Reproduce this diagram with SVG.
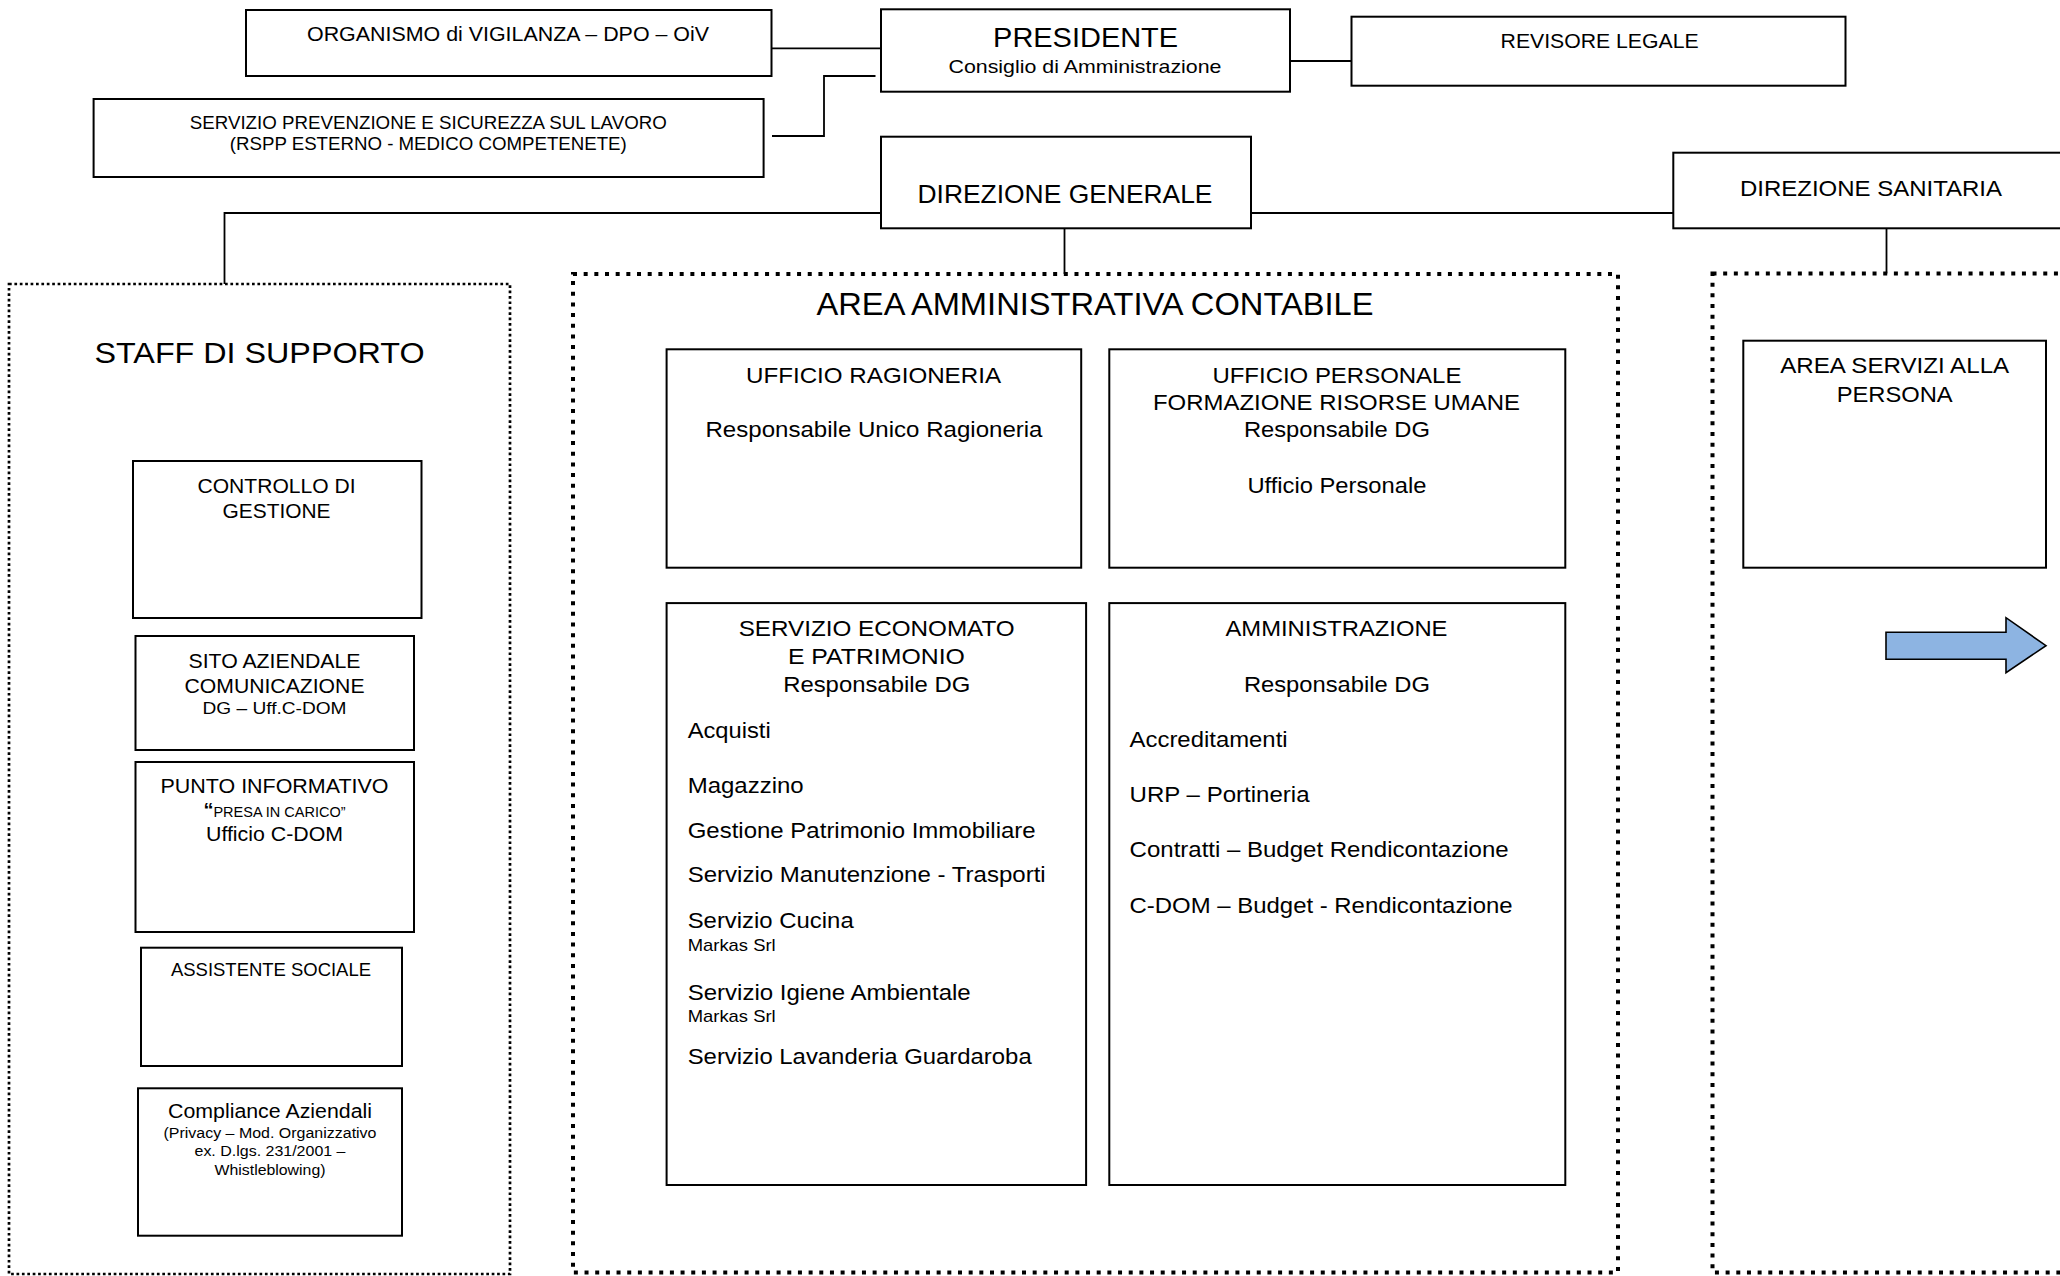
<svg xmlns="http://www.w3.org/2000/svg" width="2060" height="1276" viewBox="0 0 2060 1276">
<style>
.bg{fill:#fff}
.box{fill:#fff;stroke:#000;stroke-width:2}
.dot1{fill:none;stroke:#000;stroke-width:2.7;stroke-dasharray:2.7 2.7}
.dot2{fill:none;stroke:#000;stroke-width:4;stroke-dasharray:4 6.67}
.conn{fill:none;stroke:#000;stroke-width:1.8}
text{font-family:"Liberation Sans",Arial,sans-serif;fill:#000}
.c{text-anchor:middle}
.arrow{fill:#8DB4E2;stroke:#000;stroke-width:1.6}
</style>
<rect class="bg" x="0" y="0" width="2060" height="1276"/>

<g id="connectors">
  <line class="conn" x1="771.5" y1="48.3" x2="881" y2="48.3"/>
  <polyline class="conn" points="772,136 824,136 824,76 875.5,76"/>
  <line class="conn" x1="1290" y1="61" x2="1351.5" y2="61"/>
  <polyline class="conn" points="881,213 224.5,213 224.5,284"/>
  <line class="conn" x1="1251" y1="213" x2="1673.3" y2="213"/>
  <line class="conn" x1="1064.5" y1="228.3" x2="1064.5" y2="274"/>
  <line class="conn" x1="1886.5" y1="228.3" x2="1886.5" y2="273.5"/>
</g>

<g id="oiv">
  <rect class="box" x="246" y="10" width="525.5" height="66"/>
  <text class="c" x="508" y="40.5" font-size="19.5" textLength="402" lengthAdjust="spacingAndGlyphs">ORGANISMO di VIGILANZA – DPO – OiV</text>
</g>

<g id="spsl">
  <rect class="box" x="93.6" y="99" width="670" height="78"/>
  <text class="c" x="428.3" y="129.3" font-size="17.5" textLength="477" lengthAdjust="spacingAndGlyphs">SERVIZIO PREVENZIONE E SICUREZZA SUL LAVORO</text>
  <text class="c" x="428.3" y="149.5" font-size="17.5" textLength="397" lengthAdjust="spacingAndGlyphs">(RSPP ESTERNO - MEDICO COMPETENETE)</text>
</g>

<g id="presidente">
  <rect class="box" x="881" y="9.3" width="409" height="82.4"/>
  <text class="c" x="1085.6" y="47.3" font-size="27.5" textLength="185" lengthAdjust="spacingAndGlyphs">PRESIDENTE</text>
  <text class="c" x="1085" y="73.3" font-size="18.5" textLength="273" lengthAdjust="spacingAndGlyphs">Consiglio di Amministrazione</text>
</g>

<g id="revisore">
  <rect class="box" x="1351.5" y="16.7" width="494" height="69"/>
  <text class="c" x="1599.6" y="48.3" font-size="19.5" textLength="198" lengthAdjust="spacingAndGlyphs">REVISORE LEGALE</text>
</g>

<g id="direzione-generale">
  <rect class="box" x="881" y="136.7" width="370" height="91.6"/>
  <text class="c" x="1065" y="203" font-size="25" textLength="295" lengthAdjust="spacingAndGlyphs">DIREZIONE GENERALE</text>
</g>

<g id="direzione-sanitaria">
  <rect class="box" x="1673.3" y="152.7" width="420" height="75.6"/>
  <text class="c" x="1871" y="195.5" font-size="22" textLength="262" lengthAdjust="spacingAndGlyphs">DIREZIONE SANITARIA</text>
</g>

<g id="staff">
  <rect class="dot1" x="9" y="284" width="501" height="990"/>
  <text class="c" x="259.5" y="363" font-size="30" textLength="330" lengthAdjust="spacingAndGlyphs">STAFF DI SUPPORTO</text>
</g>

<g id="controllo">
  <rect class="box" x="133" y="461" width="288.5" height="157"/>
  <text class="c" x="276.5" y="492.6" font-size="19.5" textLength="158" lengthAdjust="spacingAndGlyphs">CONTROLLO DI</text>
  <text class="c" x="276.5" y="517.5" font-size="19.5" textLength="108" lengthAdjust="spacingAndGlyphs">GESTIONE</text>
</g>

<g id="sito">
  <rect class="box" x="135.5" y="636" width="278.5" height="114"/>
  <text class="c" x="274.5" y="667.5" font-size="19.5" textLength="172" lengthAdjust="spacingAndGlyphs">SITO AZIENDALE</text>
  <text class="c" x="274.5" y="692.5" font-size="19.5" textLength="180" lengthAdjust="spacingAndGlyphs">COMUNICAZIONE</text>
  <text class="c" x="274.5" y="713.5" font-size="16" textLength="144" lengthAdjust="spacingAndGlyphs">DG – Uff.C-DOM</text>
</g>

<g id="punto">
  <rect class="box" x="135.5" y="762" width="278.5" height="170"/>
  <text class="c" x="274.5" y="793" font-size="19.5" textLength="228" lengthAdjust="spacingAndGlyphs">PUNTO INFORMATIVO</text>
  <text class="c" x="274.5" y="817"><tspan font-size="20" font-weight="bold">“</tspan><tspan font-size="14.5">PRESA IN CARICO”</tspan></text>
  <text class="c" x="274.5" y="841.3" font-size="19.5" textLength="137" lengthAdjust="spacingAndGlyphs">Ufficio C-DOM</text>
</g>

<g id="assistente">
  <rect class="box" x="141" y="947.7" width="261" height="118.3"/>
  <text class="c" x="271" y="976" font-size="18.5" textLength="200" lengthAdjust="spacingAndGlyphs">ASSISTENTE SOCIALE</text>
</g>

<g id="compliance">
  <rect class="box" x="138" y="1088.3" width="264" height="147.4"/>
  <text class="c" x="270" y="1118.3" font-size="20" textLength="204" lengthAdjust="spacingAndGlyphs">Compliance Aziendali</text>
  <text class="c" x="270" y="1138.3" font-size="15.5" textLength="213" lengthAdjust="spacingAndGlyphs">(Privacy – Mod. Organizzativo</text>
  <text class="c" x="270" y="1156.3" font-size="15.5" textLength="151" lengthAdjust="spacingAndGlyphs">ex. D.lgs. 231/2001 –</text>
  <text class="c" x="270" y="1175" font-size="15.5" textLength="111" lengthAdjust="spacingAndGlyphs">Whistleblowing)</text>
</g>

<g id="area-amministrativa">
  <rect class="dot2" x="573" y="274" width="1045" height="998.5"/>
  <text class="c" x="1095" y="315" font-size="30.5" textLength="557" lengthAdjust="spacingAndGlyphs">AREA AMMINISTRATIVA CONTABILE</text>
</g>

<g id="ragioneria">
  <rect class="box" x="666.6" y="349.3" width="414.6" height="218.4"/>
  <text class="c" x="873.5" y="383.3" font-size="22.5" textLength="255" lengthAdjust="spacingAndGlyphs">UFFICIO RAGIONERIA</text>
  <text class="c" x="874" y="436.7" font-size="22.5" textLength="337" lengthAdjust="spacingAndGlyphs">Responsabile Unico Ragioneria</text>
</g>

<g id="personale">
  <rect class="box" x="1109.3" y="349.3" width="456" height="218.4"/>
  <text class="c" x="1336.9" y="383.3" font-size="22.5" textLength="249" lengthAdjust="spacingAndGlyphs">UFFICIO PERSONALE</text>
  <text class="c" x="1336.5" y="410" font-size="22.5" textLength="367" lengthAdjust="spacingAndGlyphs">FORMAZIONE RISORSE UMANE</text>
  <text class="c" x="1336.9" y="436.7" font-size="22.5" textLength="186" lengthAdjust="spacingAndGlyphs">Responsabile DG</text>
  <text class="c" x="1336.9" y="492.7" font-size="22.5" textLength="179" lengthAdjust="spacingAndGlyphs">Ufficio Personale</text>
</g>

<g id="economato">
  <rect class="box" x="666.6" y="603.1" width="419.5" height="581.9"/>
  <text class="c" x="876.7" y="636.4" font-size="22.5" textLength="276" lengthAdjust="spacingAndGlyphs">SERVIZIO ECONOMATO</text>
  <text class="c" x="876.4" y="664.3" font-size="22.5" textLength="177" lengthAdjust="spacingAndGlyphs">E PATRIMONIO</text>
  <text class="c" x="876.7" y="691.9" font-size="22.5" textLength="187" lengthAdjust="spacingAndGlyphs">Responsabile DG</text>
  <text x="687.7" y="737.6" font-size="22.5" textLength="83" lengthAdjust="spacingAndGlyphs">Acquisti</text>
  <text x="687.7" y="793.1" font-size="22.5" textLength="116" lengthAdjust="spacingAndGlyphs">Magazzino</text>
  <text x="687.7" y="838.3" font-size="22.5" textLength="348" lengthAdjust="spacingAndGlyphs">Gestione Patrimonio Immobiliare</text>
  <text x="687.7" y="881.8" font-size="22.5" textLength="358" lengthAdjust="spacingAndGlyphs">Servizio Manutenzione - Trasporti</text>
  <text x="687.7" y="928.4" font-size="22.5" textLength="166" lengthAdjust="spacingAndGlyphs">Servizio Cucina</text>
  <text x="687.7" y="950.6" font-size="17" textLength="88" lengthAdjust="spacingAndGlyphs">Markas Srl</text>
  <text x="687.7" y="999.5" font-size="22.5" textLength="283" lengthAdjust="spacingAndGlyphs">Servizio Igiene Ambientale</text>
  <text x="687.7" y="1021.6" font-size="17" textLength="88" lengthAdjust="spacingAndGlyphs">Markas Srl</text>
  <text x="687.7" y="1063.8" font-size="22.5" textLength="344" lengthAdjust="spacingAndGlyphs">Servizio Lavanderia Guardaroba</text>
</g>

<g id="amministrazione">
  <rect class="box" x="1109.3" y="603.1" width="456" height="581.9"/>
  <text class="c" x="1336.5" y="636.4" font-size="22.5" textLength="222" lengthAdjust="spacingAndGlyphs">AMMINISTRAZIONE</text>
  <text class="c" x="1336.9" y="691.9" font-size="22.5" textLength="186" lengthAdjust="spacingAndGlyphs">Responsabile DG</text>
  <text x="1129.6" y="746.5" font-size="22.5" textLength="158" lengthAdjust="spacingAndGlyphs">Accreditamenti</text>
  <text x="1129.6" y="801.9" font-size="22.5" textLength="180" lengthAdjust="spacingAndGlyphs">URP – Portineria</text>
  <text x="1129.6" y="857.4" font-size="22.5" textLength="379" lengthAdjust="spacingAndGlyphs">Contratti – Budget Rendicontazione</text>
  <text x="1129.6" y="912.9" font-size="22.5" textLength="383" lengthAdjust="spacingAndGlyphs">C-DOM – Budget - Rendicontazione</text>
</g>

<g id="area-sanitaria">
  <rect class="dot2" x="1712.5" y="273.5" width="400" height="999"/>
</g>

<g id="servizi-persona">
  <rect class="box" x="1743.3" y="340.7" width="302.7" height="227"/>
  <text class="c" x="1894.7" y="373.3" font-size="22.5" textLength="229" lengthAdjust="spacingAndGlyphs">AREA SERVIZI ALLA</text>
  <text class="c" x="1894.7" y="401.7" font-size="22.5" textLength="116" lengthAdjust="spacingAndGlyphs">PERSONA</text>
</g>

<g id="freccia">
  <polygon class="arrow" points="1886,632.3 2006,632.3 2006,617.7 2046,645.7 2006,672.7 2006,659.3 1886,659.3"/>
</g>
</svg>
